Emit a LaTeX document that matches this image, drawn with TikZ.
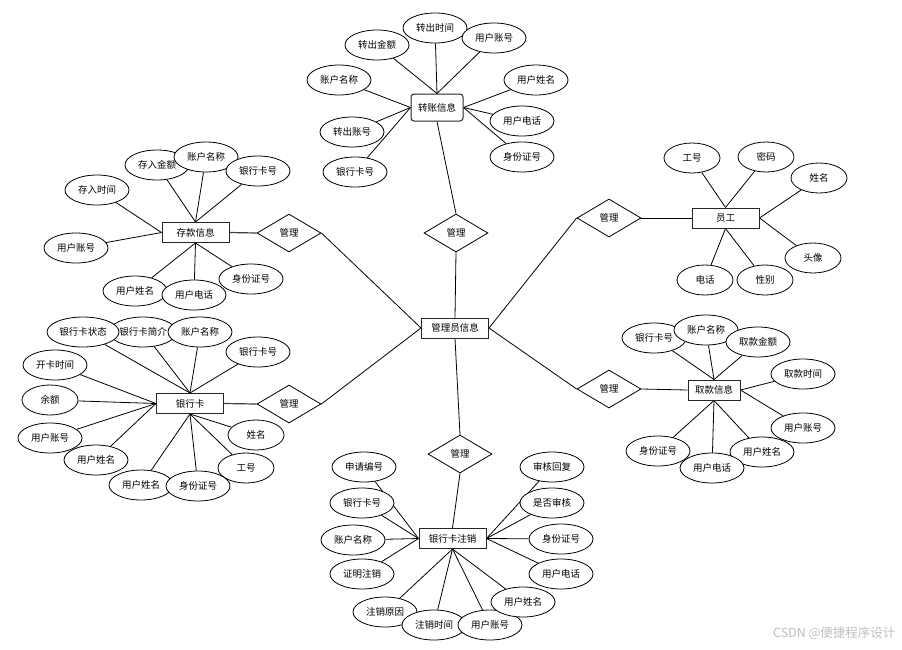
\documentclass[tikz,border=0pt]{standalone}
\usepackage{fontspec}
\setmainfont{Noto Sans CJK SC}
\usetikzlibrary{shapes.geometric}
\pgfdeclarelayer{bg}
\pgfdeclarelayer{canvas}
\pgfsetlayers{canvas,bg,main}
\begin{document}
\begin{tikzpicture}[x=1pt,y=-1pt,
  attr/.style={ellipse, draw, line width=0.8pt, fill=white, minimum width=64pt, minimum height=30pt, inner sep=0pt, font=\fontsize{9.5}{10}\selectfont},
  sattr/.style={attr, minimum width=56pt},
  ent/.style={rectangle, draw=black!85, line width=1pt, fill=white, minimum width=67pt, minimum height=20pt, inner sep=0pt, font=\fontsize{9.5}{10}\selectfont},
  rel/.style={diamond, draw, line width=0.8pt, fill=white, minimum width=64pt, minimum height=38pt, inner sep=0pt, font=\fontsize{9.5}{10}\selectfont},
  lnk/.style={line width=0.8pt},
  rlnk/.style={line width=1.2pt, draw=black!75}]
\begin{pgfonlayer}{canvas}
\fill[white] (0,0) rectangle (902,649);
\end{pgfonlayer}
\useasboundingbox (0,0) rectangle (902,649);

% central
\node[ent] (M) at (455,328) {管理员信息};
\node[rel] (Dt) at (456,233) {管理};
\node[rel] (Dul) at (289,233) {管理};
\node[rel] (Dll) at (289,404) {管理};
\node[rel] (Dur) at (609,218) {管理};
\node[rel] (Dlr) at (609,389) {管理};
\node[rel] (Db) at (460,454) {管理};

% top cluster
\node[ent, rounded corners=3pt, minimum width=52pt, minimum height=27pt] (T) at (437,107.5) {转账信息};
\node[attr] (t1) at (377,45) {转出金额};
\node[attr] (t2) at (435,28) {转出时间};
\node[attr] (t3) at (494,38) {用户账号};
\node[attr] (t4) at (339,80) {账户名称};
\node[attr] (t5) at (536,80) {用户姓名};
\node[attr] (t6) at (352,132) {转出账号};
\node[attr] (t7) at (522,121) {用户电话};
\node[attr] (t8) at (355,172) {银行卡号};
\node[attr] (t9) at (522,157) {身份证号};

% deposit cluster
\node[ent] (C) at (195.5,232.5) {存款信息};
\node[attr] (c1) at (157,165) {存入金额};
\node[attr] (c2) at (206,157) {账户名称};
\node[attr] (c3) at (258,171) {银行卡号};
\node[attr] (c4) at (97,190) {存入时间};
\node[attr] (c5) at (76,248) {用户账号};
\node[attr] (c6) at (135,291) {用户姓名};
\node[attr] (c8) at (251,279) {身份证号};
\node[attr] (c7) at (194,295) {用户电话};

% bank card cluster
\node[ent] (B) at (190,403.5) {银行卡};
\node[attr] (b2) at (143,332) {银行卡简介};
\node[attr, minimum width=72pt] (b1) at (83,332) {银行卡状态};
\node[attr] (b3) at (200,332) {账户名称};
\node[attr] (b4) at (258,352) {银行卡号};
\node[attr] (b5) at (55,365) {开卡时间};
\node[sattr] (b6) at (50,400) {余额};
\node[attr] (b7) at (50,438) {用户账号};
\node[attr] (b8) at (96,460) {用户姓名};
\node[sattr] (b9) at (256,435) {姓名};
\node[sattr] (b10) at (246,468) {工号};
\node[attr] (b11) at (141,485) {用户姓名};
\node[attr] (b12) at (198,486) {身份证号};

% staff cluster
\node[ent] (E) at (725.5,218) {员工};
\node[sattr] (e1) at (692,158) {工号};
\node[sattr] (e2) at (766,157) {密码};
\node[sattr] (e3) at (819,178) {姓名};
\node[sattr] (e4) at (813,258) {头像};
\node[sattr] (e5) at (705,280) {电话};
\node[sattr] (e6) at (765,280) {性别};

% withdraw cluster
\node[ent, minimum width=52pt] (W) at (714,390) {取款信息};
\node[attr] (w1) at (654,338) {银行卡号};
\node[attr] (w2) at (706,330) {账户名称};
\node[attr] (w3) at (758,342) {取款金额};
\node[attr] (w4) at (803,374) {取款时间};
\node[attr] (w5) at (803,428) {用户账号};
\node[attr] (w6) at (762,452) {用户姓名};
\node[attr] (w8) at (658,451) {身份证号};
\node[attr] (w7) at (712,468) {用户电话};

% cancel cluster
\node[ent] (X) at (452.5,538.5) {银行卡注销};
\node[attr] (x1) at (364,467) {申请编号};
\node[attr] (x2) at (362,503) {银行卡号};
\node[attr] (x3) at (353,540) {账户名称};
\node[attr] (x4) at (362,574) {证明注销};
\node[attr] (x5) at (385,612) {注销原因};
\node[attr] (x6) at (434,625) {注销时间};
\node[attr] (x7) at (490,625) {用户账号};
\node[attr] (x8) at (523,602) {用户姓名};
\node[attr] (x9) at (561,574) {用户电话};
\node[attr] (x10) at (561,539) {身份证号};
\node[attr] (x11) at (552,503) {是否审核};
\node[attr] (x12) at (552,467) {审核回复};

\node[text=black!25, font=\fontsize{12.5}{14}\selectfont, anchor=east] (wm) at (899,633) {CSDN @便捷程序设计};

\begin{pgfonlayer}{bg}
% central links
\draw[lnk] (Dt.south) -- (M.north);
\draw[lnk] (Dul.east) -- (M.west);
\draw[lnk] (Dll.east) -- (M.west);
\draw[lnk] (Dur.west) -- (M.east);
\draw[lnk] (Dlr.west) -- (M.east);
\draw[lnk] (Db.north) -- (M.south);
% relation to entity
\draw[lnk] (Dt.north) -- (T.south);
\draw[rlnk] (Dul.west) -- (C.east);
\draw[rlnk] (Dll.west) -- (B.east);
\draw[lnk] (Dur.east) -- (E.west);
\draw[lnk] (Dlr.east) -- (W.west);
\draw[lnk] (Db.south) -- (X.north);
% top
\foreach \a in {t1,t2,t3} \draw[lnk] (\a) -- (T.north);
\foreach \a in {t4,t6,t8} \draw[lnk] (\a) -- (T.west);
\foreach \a in {t5,t7,t9} \draw[lnk] (\a) -- (T.east);
% deposit
\foreach \a in {c1,c2,c3} \draw[lnk] (\a) -- (C.north);
\foreach \a in {c4,c5} \draw[lnk] (\a) -- (C.west);
\foreach \a in {c6,c7,c8} \draw[lnk] (\a) -- (C.south);
% bank card
\foreach \a in {b1,b2,b3,b4} \draw[lnk] (\a) -- (B.north);
\foreach \a in {b5,b6,b7,b8} \draw[lnk] (\a) -- (B.west);
\foreach \a in {b9,b10,b11,b12} \draw[lnk] (\a) -- (B.south);
% staff
\foreach \a in {e1,e2} \draw[lnk] (\a) -- (E.north);
\foreach \a in {e3,e4} \draw[lnk] (\a) -- (E.east);
\foreach \a in {e5,e6} \draw[lnk] (\a) -- (E.south);
% withdraw
\foreach \a in {w1,w2,w3} \draw[lnk] (\a) -- (W.north);
\foreach \a in {w4,w5} \draw[lnk] (\a) -- (W.east);
\foreach \a in {w6,w7,w8} \draw[lnk] (\a) -- (W.south);
% cancel
\foreach \a in {x1,x2,x3,x4} \draw[lnk] (\a) -- (X.west);
\foreach \a in {x9,x10,x11,x12} \draw[lnk] (\a) -- (X.east);
\foreach \a in {x5,x6,x7,x8} \draw[lnk] (\a) -- (X.south);
\end{pgfonlayer}
\end{tikzpicture}
\end{document}
